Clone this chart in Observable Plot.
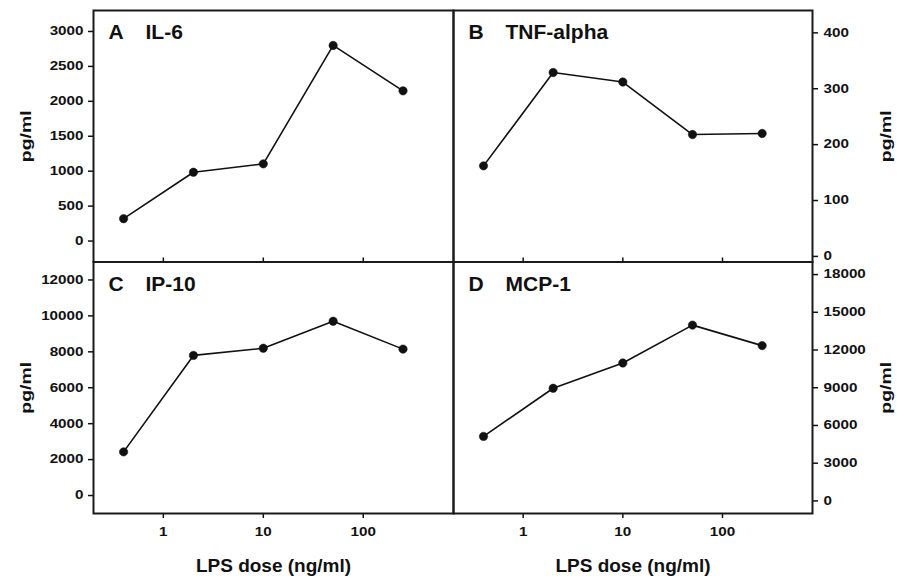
<!DOCTYPE html>
<html>
<head>
<meta charset="utf-8">
<script src="https://cdn.jsdelivr.net/npm/d3@7"></script>
<script src="https://cdn.jsdelivr.net/npm/@observablehq/plot@0.6"></script>
<style>
  html, body { margin: 0; padding: 0; background: #fff; }
  #chart { position: relative; width: 897px; height: 578px; overflow: hidden; }
  #chart svg { position: absolute; left: 0; top: 0; }
</style>
</head>
<body>
<div id="chart"></div>
<script>
// ---- data ----
const doses = [0.4, 2, 10, 50, 250];           // LPS dose (ng/ml)
const il6   = [320, 985, 1105, 2800, 2150];      // A IL-6
const tnf   = [162, 329, 312, 218, 220];         // B TNF-alpha
const ip10  = [2430, 7800, 8200, 9700, 8150];    // C IP-10
const mcp1  = [5130, 8960, 10970, 13980, 12350]; // D MCP-1

const xTicks    = [1, 10, 100];
const il6Ticks  = [0, 500, 1000, 1500, 2000, 2500, 3000];
const tnfTicks  = [0, 100, 200, 300, 400];
const ip10Ticks = [0, 2000, 4000, 6000, 8000, 10000, 12000];
const mcp1Ticks = [0, 3000, 6000, 9000, 12000, 15000, 18000];

const xLabel = "LPS dose (ng/ml)";
const yLabel = "pg/ml";

const W = 897, H = 578;
const FONT = "Liberation Sans, Arial, sans-serif";
const INK = "#111";

// frame edges (page pixels)
const colL = {left: 93, right: 453};
const colR = {left: 453, right: 812};
const rowT = {top: 10, bottom: 261.5};
const rowB = {top: 261.5, bottom: 513};

function panel({values, yDomain, yTicks, col, row, letter, name, isLeft, isTop}) {
  const data = doses.map((x, i) => ({x, y: values[i]}));
  const marks = [
    Plot.axisY({
      anchor: isLeft ? "left" : "right", ticks: yTicks, tickSize: 5,
      tickPadding: isLeft ? 5 : 6, label: null, tickFormat: d => String(d),
      strokeWidth: 1.5, fontSize: 12
    }),
    isTop
      ? Plot.axisX({anchor: "bottom", ticks: xTicks, tickSize: -4, tickFormat: () => "", label: null, strokeWidth: 1.5})
      : Plot.axisX({anchor: "bottom", ticks: xTicks, tickSize: 5, tickPadding: 9, tickFormat: d => String(d), label: null, strokeWidth: 1.5, fontSize: 12}),
    Plot.line(data, {x: "x", y: "y", stroke: INK, strokeWidth: 1.6}),
    Plot.dot(data, {x: "x", y: "y", r: 4.2, fill: INK, stroke: INK, strokeWidth: 0.5}),
    Plot.frame({stroke: "#1a1a1a", strokeWidth: 2}),
    Plot.text([letter], {text: d => d, frameAnchor: "top-left", dx: 15, dy: 28.5, lineAnchor: "bottom", textAnchor: "start", fontSize: 21, fontWeight: "bold", fontFamily: FONT, fill: INK}),
    Plot.text([name], {text: d => d, frameAnchor: "top-left", dx: 52, dy: 28.5, lineAnchor: "bottom", textAnchor: "start", fontSize: 21, fontWeight: "bold", fontFamily: FONT, fill: INK}),
    Plot.text([yLabel], {text: d => d, frameAnchor: isLeft ? "left" : "right", dx: isLeft ? -67 : 74, rotate: -90, lineAnchor: "middle", textAnchor: "middle", fontSize: 15, fontWeight: "bold", fontFamily: FONT, fill: INK})
  ];
  if (!isTop) {
    marks.push(Plot.text([xLabel], {text: d => d, frameAnchor: "bottom", dy: 58.7, lineAnchor: "bottom", textAnchor: "middle", fontSize: 19, fontWeight: "bold", fontFamily: FONT, fill: INK}));
  }
  const svg = Plot.plot({
    width: W, height: H,
    marginLeft: col.left, marginRight: W - col.right,
    marginTop: row.top, marginBottom: H - row.bottom,
    x: {type: "log", domain: [0.2, 800]},
    y: {domain: yDomain},
    style: {background: "transparent", fontFamily: FONT, fontWeight: "bold", fontSize: "12px", color: INK, overflow: "visible"},
    marks
  });
  // widen tick labels and the rotated unit label to match the reference lettering
  const stretch = (t, sx) => {
    const x = t.getAttribute("x") || 0, y = t.getAttribute("y") || 0;
    const tr = t.getAttribute("transform") || "";
    t.removeAttribute("x");
    t.setAttribute("transform", `${tr} translate(${x},0) scale(${sx},1)`);
  };
  svg.querySelectorAll('g[aria-label="y-axis tick label"] text, g[aria-label="x-axis tick label"] text').forEach(t => stretch(t, 1.27));
  svg.querySelectorAll('text').forEach(t => { if (t.textContent === yLabel) stretch(t, 1.3); });
  return svg;
}

const chart = document.getElementById("chart");
chart.append(
  panel({values: il6,  yDomain: [-300, 3300],   yTicks: il6Ticks,  col: colL, row: rowT, letter: "A", name: "IL-6",      isLeft: true,  isTop: true}),
  panel({values: tnf,  yDomain: [-10, 440],     yTicks: tnfTicks,  col: colR, row: rowT, letter: "B", name: "TNF-alpha", isLeft: false, isTop: true}),
  panel({values: ip10, yDomain: [-1000, 13000], yTicks: ip10Ticks, col: colL, row: rowB, letter: "C", name: "IP-10",     isLeft: true,  isTop: false}),
  panel({values: mcp1, yDomain: [-1000, 19000], yTicks: mcp1Ticks, col: colR, row: rowB, letter: "D", name: "MCP-1",     isLeft: false, isTop: false})
);
</script>
</body>
</html>
